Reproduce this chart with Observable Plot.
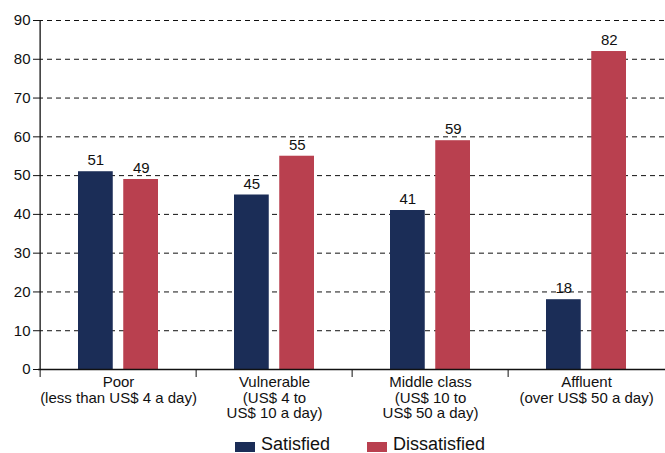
<!DOCTYPE html>
<html>
<head>
<meta charset="utf-8">
<script src="https://cdn.jsdelivr.net/npm/d3@7"></script>
<script src="https://cdn.jsdelivr.net/npm/@observablehq/plot@0.6"></script>
<style>
  html, body { margin: 0; padding: 0; background: #fff; overflow: hidden; }
  #chart svg { display: block; }
  #legend { display: flex; align-items: flex-start; margin-left: 235px; height: 16px; font-family: "Liberation Sans", Arial, sans-serif; font-size: 18px; line-height: 16px; color: #111; }
  .item { display: flex; align-items: flex-start; margin-right: 37px; }
  .sw { width: 20px; height: 12px; margin-top: 6px; margin-right: 6px; }
</style>
</head>
<body>
<div id="chart"></div>
<div id="legend"></div>
<script>
const categories = ["Poor", "Vulnerable", "Middle class", "Affluent"];
const categoryLabels = [
  "Poor\n(less than US$ 4 a day)",
  "Vulnerable\n(US$ 4 to\nUS$ 10 a day)",
  "Middle class\n(US$ 10 to\nUS$ 50 a day)",
  "Affluent\n(over US$ 50 a day)"
];
const satisfied = [51, 45, 41, 18];
const dissatisfied = [49, 55, 59, 82];
const seriesNames = ["Satisfied", "Dissatisfied"];
const seriesColors = ["#1b2d57", "#b9404f"];
const yTicks = [0, 10, 20, 30, 40, 50, 60, 70, 80, 90];

const data = categories.map((c, i) => ({cat: c, label: categoryLabels[i], sat: satisfied[i], dis: dissatisfied[i]}));

const W = 665, H = 436, mL = 38, mR = 0;
const bw = (W - mL - mR) / categories.length;
const font = "'Liberation Sans', Arial, sans-serif";
const off = bw / 2 - 38 - 17.6;

const chart = Plot.plot({
  width: W,
  height: H,
  marginLeft: mL,
  marginRight: mR,
  marginTop: 20,
  marginBottom: 67,
  style: {fontFamily: font, fontSize: "15px", color: "#111", background: "#fff"},
  x: {domain: categories, padding: 0},
  y: {domain: [0, 90]},
  marks: [
    Plot.ruleY(yTicks.filter(v => v > 0), {stroke: "#111", strokeWidth: 1, strokeDasharray: "5,4"}),
    Plot.barY(data, {x: "cat", y: "sat", fill: seriesColors[0], insetLeft: 38, insetRight: bw - 73.5}),
    Plot.barY(data, {x: "cat", y: "dis", fill: seriesColors[1], insetLeft: bw - 73.5, insetRight: 38}),
    Plot.text(data, {x: "cat", y: "sat", text: "sat", dx: -off, dy: -6.5, lineAnchor: "bottom", fontSize: 15, fill: "#111"}),
    Plot.text(data, {x: "cat", y: "dis", text: "dis", dx: off, dy: -6.5, lineAnchor: "bottom", fontSize: 15, fill: "#111"}),
    Plot.text(data, {x: "cat", text: "label", frameAnchor: "bottom", lineAnchor: "top", dy: 7, fontSize: 15, lineHeight: 1.03, fill: "#111"}),
    Plot.axisX({tickSize: 8, tickFormat: () => "", label: null, dx: -bw / 2, stroke: "#111"}),
    Plot.axisY({ticks: yTicks, tickSize: 5, tickPadding: 3, label: null, fontSize: 15, stroke: "#111", fill: "#111"}),
    Plot.ruleX([categories[0]], {dx: -bw / 2, stroke: "#111", strokeWidth: 1.3}),
    Plot.ruleY([0], {stroke: "#111", strokeWidth: 1.3})
  ]
});
document.getElementById("chart").appendChild(chart);

const legend = document.getElementById("legend");
seriesNames.forEach((name, i) => {
  const item = document.createElement("div");
  item.className = "item";
  const sw = document.createElement("div");
  sw.className = "sw";
  sw.style.background = seriesColors[i];
  const t = document.createElement("span");
  t.textContent = name;
  item.appendChild(sw);
  item.appendChild(t);
  legend.appendChild(item);
});
</script>
</body>
</html>
